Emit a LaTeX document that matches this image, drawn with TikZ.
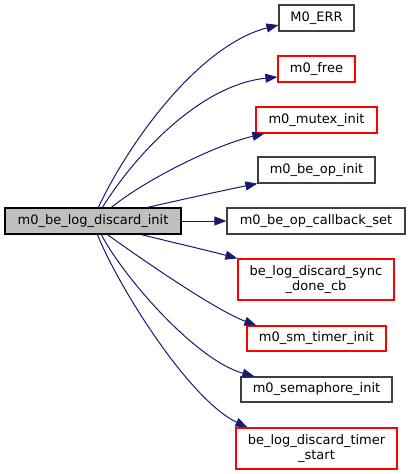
\documentclass[tikz,border=0pt]{standalone}
\usepackage{fontspec}
\setmainfont{DejaVu Sans}
\usetikzlibrary{arrows.meta}
\definecolor{edgeblue}{HTML}{191970}
\definecolor{boxgray}{HTML}{BFBFBF}
\definecolor{boxred}{HTML}{FF0000}
\definecolor{boxdark}{HTML}{404040}
\tikzset{
  fn/.style={draw=boxdark, line width=1.2pt, inner sep=0pt, align=center,
    font=\fontsize{13}{15}\selectfont, minimum height=26pt},
  fnred/.style={fn, draw=boxred},
  fnmain/.style={fn, draw=black, fill=boxgray},
  edge/.style={draw=edgeblue, line width=1pt,
    -{Triangle[length=12pt,width=9pt]}}
}
\begin{document}
\begin{tikzpicture}[x=1pt,y=-1pt]
\useasboundingbox (0,0) rectangle (411,474);
\node[fnmain, minimum width=176pt] (main) at (93,221) {m0\_be\_log\_discard\_init};
\node[fn, minimum width=75pt] (err) at (316.5,18) {M0\_ERR};
\node[fnred, minimum width=77pt] (free) at (316.5,69) {m0\_free};
\node[fnred, minimum width=121pt] (mutex) at (316.5,120) {m0\_mutex\_init};
\node[fn, minimum width=117pt] (opinit) at (316.5,170) {m0\_be\_op\_init};
\node[fn, minimum width=178pt] (cb) at (316,221) {m0\_be\_op\_callback\_set};
\node[fnred, minimum width=156pt, minimum height=41pt] (sync) at (316,279.5) {be\_log\_discard\_sync\\\_done\_cb};
\node[fnred, minimum width=139pt, minimum height=25pt] (smt) at (316.5,338.5) {m0\_sm\_timer\_init};
\node[fn, minimum width=151pt, minimum height=25pt] (sem) at (316.5,389.5) {m0\_semaphore\_init};
\node[fnred, minimum width=161pt, minimum height=41pt] (ts) at (316.5,448.5) {be\_log\_discard\_timer\\\_start};

\draw[edge] ([xshift=94pt]main.north west) .. controls (130,140) and (200,45) .. ([yshift=-7pt]err.west);
\draw[edge] ([xshift=98pt]main.north west) .. controls (135,155) and (200,85) .. ([yshift=-8pt]free.west);
\draw[edge] ([xshift=107pt]main.north west) .. controls (145,180) and (215,145) .. ([xshift=9pt]mutex.south west);
\draw[edge] ([xshift=143pt]main.north west) .. controls (180,200) and (225,190) .. (opinit.south west);
\draw[edge] (main.east) -- (cb.west);
\draw[edge] ([xshift=137pt]main.south west) .. controls (175,243) and (210,251) .. (sync.north west);
\draw[edge] ([xshift=103pt]main.south west) .. controls (140,258) and (215,310) .. ([xshift=10pt]smt.north west);
\draw[edge] ([xshift=97pt]main.south west) .. controls (122,275) and (195,360) .. ([xshift=14pt]sem.north west);
\draw[edge] ([xshift=93pt]main.south west) .. controls (120,290) and (190,400) .. ([xshift=12pt]ts.north west);
\end{tikzpicture}
\end{document}
